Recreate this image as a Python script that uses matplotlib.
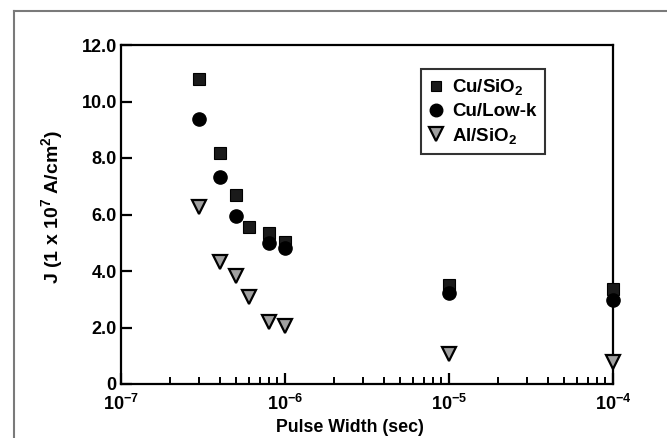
import matplotlib
matplotlib.use("Agg")
import matplotlib.pyplot as plt
from matplotlib.lines import Line2D

plt.rcParams['font.family'] = ['Liberation Sans', 'DejaVu Sans']
plt.rcParams['font.weight'] = 'bold'
plt.rcParams['mathtext.fontset'] = 'custom'
plt.rcParams['mathtext.rm'] = 'Liberation Sans:bold'
plt.rcParams['mathtext.bf'] = 'Liberation Sans:bold'
plt.rcParams['mathtext.it'] = 'Liberation Sans:bold'
plt.rcParams['mathtext.default'] = 'regular'

# Data
pulse_cu_sio2 = [3e-7, 4e-7, 5e-7, 6e-7, 8e-7, 1e-6, 1e-5, 1e-4]
j_cu_sio2 = [10.8, 8.17, 6.69, 5.57, 5.33, 5.04, 3.50, 3.35]

pulse_cu_lowk = [3e-7, 4e-7, 5e-7, 8e-7, 1e-6, 1e-5, 1e-4]
j_cu_lowk = [9.37, 7.34, 5.95, 4.98, 4.80, 3.21, 2.97]

pulse_al_sio2 = [3e-7, 4e-7, 5e-7, 6e-7, 8e-7, 1e-6, 1e-5, 1e-4]
j_al_sio2 = [6.25, 4.33, 3.82, 3.09, 2.21, 2.06, 1.05, 0.79]

series_labels = ['Cu/SiO$_2$', 'Cu/Low-k', 'Al/SiO$_2$']
y_ticks = [0, 2, 4, 6, 8, 10, 12]
y_tick_labels = ['0', '2.0', '4.0', '6.0', '8.0', '10.0', '12.0']
x_ticks = [1e-7, 1e-6, 1e-5, 1e-4]
x_tick_labels = ['$10^{-7}$', '$10^{-6}$', '$10^{-5}$', '$10^{-4}$']

fig = plt.figure(figsize=(6.67, 4.38), dpi=100)
ax = fig.add_axes([121/667, 1-384/438, (613-121)/667, (384-45)/438])

ax.set_xscale('log')
ax.set_xlim(1e-7, 1e-4)
ax.set_ylim(0, 12)

ax.plot(pulse_cu_sio2, j_cu_sio2, linestyle='none', marker='s', markersize=8,
        markerfacecolor='#1a1a1a', markeredgecolor='#000000', markeredgewidth=0.8,
        clip_on=False, zorder=3, label=series_labels[0])
ax.plot(pulse_cu_lowk, j_cu_lowk, linestyle='none', marker='o', markersize=9.5,
        markerfacecolor='#000000', markeredgecolor='#000000',
        clip_on=False, zorder=4, label=series_labels[1])
ax.plot(pulse_al_sio2, j_al_sio2, linestyle='none', marker='v', markersize=10,
        markerfacecolor='#a0a0a0', markeredgecolor='#000000', markeredgewidth=1.6,
        clip_on=False, zorder=3, label=series_labels[2])

for s in ax.spines.values():
    s.set_linewidth(1.6)

ax.set_yticks(y_ticks)
ax.set_yticklabels(y_tick_labels, fontsize=13, fontweight='bold')
ax.set_xticks(x_ticks)
ax.set_xticklabels(x_tick_labels, fontsize=13)
ax.tick_params(axis='both', which='major', direction='in', length=8, width=1.6, pad=3)
ax.tick_params(axis='x', which='minor', direction='in', length=5, width=1.4)
ax.tick_params(axis='x', which='major', pad=7)
ax.tick_params(axis='y', which='minor', left=False)

ax.set_xlabel('Pulse Width (sec)', fontsize=12.8, fontweight='bold')
ax.xaxis.set_label_coords(0.466, -0.103)
ax.set_ylabel('J (1 x 10$^7$ A/cm$^2$)', fontsize=14, fontweight='bold')
ax.yaxis.set_label_coords(-0.114, 0.522)

leg = ax.legend(loc='upper left', bbox_to_anchor=(421/667, 1-69/438),
                bbox_transform=fig.transFigure, fontsize=13.5, frameon=True,
                fancybox=False, handlelength=0.7, handletextpad=0.5,
                borderpad=0.45, labelspacing=0.3, borderaxespad=0,
                markerscale=0.95)
leg.get_frame().set_edgecolor('black')
leg.get_frame().set_linewidth(1.5)
for t in leg.get_texts():
    t.set_fontweight('bold')

# outer frame lines (left and top)
fig.add_artist(Line2D([14/667, 14/667], [0, 1-11/438], transform=fig.transFigure,
                      color='#7a7a7a', linewidth=1.5))
fig.add_artist(Line2D([14/667, 1], [1-11/438, 1-11/438], transform=fig.transFigure,
                      color='#7a7a7a', linewidth=1.5))

fig.savefig('out.png', dpi=100)
